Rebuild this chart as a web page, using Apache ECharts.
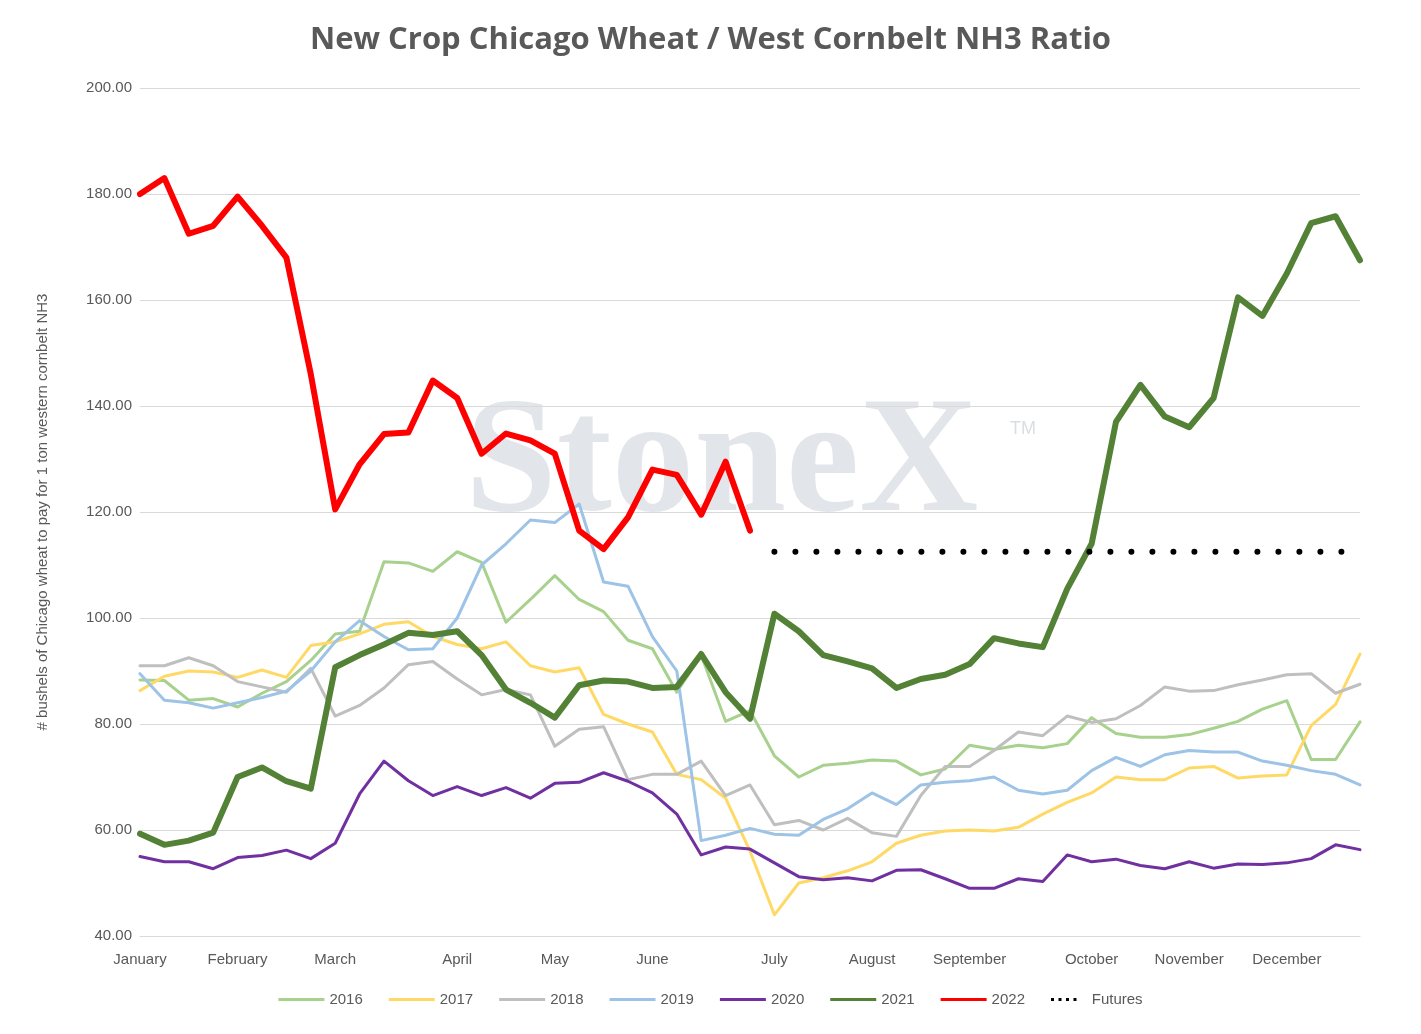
<!DOCTYPE html>
<html>
<head>
<meta charset="utf-8">
<script src="https://cdn.jsdelivr.net/npm/echarts@6/dist/echarts.min.js"></script>
<style>html,body{margin:0;padding:0;background:#fff}#chart{width:1421px;height:1034px}</style>
</head>
<body>
<div id="chart"></div>
<script>
var monthAt = {0:'January',4:'February',8:'March',13:'April',17:'May',21:'June',26:'July',30:'August',34:'September',39:'October',43:'November',47:'December'};
var weeks = [];
for (var i = 0; i < 51; i++) weeks.push(monthAt[i] || ('w' + i));

var s2016 = [88.3,88.2,84.5,84.8,83.2,85.8,88,92,97,97.5,110.6,110.4,108.8,112.5,110.5,99.2,103.5,108,103.5,101.2,95.8,94.2,86,93,80.5,82.5,74,70,72.2,72.6,73.2,73,70.4,71.5,76,75.2,76,75.5,76.3,81.2,78.2,77.5,77.5,78,79.2,80.5,82.8,84.4,73.3,73.3,80.4];
var s2017 = [86.3,89,90,89.8,88.8,90.2,88.8,94.8,95.5,97,98.8,99.3,96.5,95,94.2,95.5,91,89.8,90.6,81.8,80,78.5,70.5,69.5,66,56,44,50,51,52.3,54,57.5,59,59.8,60,59.8,60.5,63,65.2,67,70,69.5,69.5,71.7,72,69.8,70.2,70.4,79.7,83.7,93.2];
var s2018 = [91,91,92.5,91,88,87,86,90.5,81.5,83.5,86.8,91.2,91.8,88.5,85.5,86.5,85.5,75.8,79,79.5,69.5,70.5,70.5,73,66.5,68.5,61,61.8,60,62.2,59.5,58.8,66.5,72,72,75,78.5,77.8,81.5,80.3,81,83.5,87,86.2,86.3,87.4,88.3,89.3,89.5,85.8,87.5];
var s2019 = [89.5,84.5,84,83,84,85,86.2,90,95.5,99.5,96.5,94,94.2,100,110,114,118.5,118,121.5,106.8,106,96.5,90,58,59,60.3,59.2,59,62,64,67,64.8,68.5,69,69.3,70,67.5,66.8,67.5,71.2,73.7,72,74.2,75,74.7,74.7,73,72.2,71.2,70.5,68.5];
var s2020 = [55,54,54,52.7,54.8,55.2,56.2,54.6,57.5,66.8,73,69.3,66.5,68.2,66.5,68,66,68.8,69,70.8,69.2,67,63,55.3,56.8,56.4,53.8,51.2,50.6,51,50.4,52.4,52.5,50.8,49,49,50.8,50.3,55.3,54,54.5,53.3,52.7,54,52.8,53.6,53.5,53.8,54.6,57.2,56.3];
var s2021 = [59.3,57.2,58,59.5,70,71.8,69.2,67.8,90.7,93,95,97.2,96.8,97.5,93,86.5,84,81.2,87.3,88.2,88,86.8,87,93.2,86,81,100.8,97.5,93,91.8,90.5,86.8,88.5,89.3,91.3,96.2,95.2,94.5,105.5,114,137,144,138,136,141.5,160.5,157,165,174.5,175.8,167.5];
var s2022 = [180,183,172.5,174,179.5,174,168,146,120.5,129,134.7,135,144.8,141.5,131,134.8,133.5,131,116.5,113,119,128,127,119.5,129.5,116.5];
var futuresStart = 26, futuresValue = 112.5;
var futures = weeks.map(function (w, i) { return i >= futuresStart ? futuresValue : null; });

function line(name, data, color, width) {
	return {name: name, type: 'line', data: data, symbol: 'none', smooth: false,
		lineStyle: {color: color, width: width, cap: 'round', join: 'round'}, itemStyle: {color: color}};
}

var chart = echarts.init(document.getElementById('chart'));
chart.setOption({
	animation: false,
	title: {text: 'New Crop Chicago Wheat / West Cornbelt NH3 Ratio', left: 'center', top: 20,
		textStyle: {color: '#595959', fontSize: 31, fontWeight: 'bold', fontFamily: 'Open Sans'}},
	graphic: [
		{type: 'text', left: 465, top: 385, silent: true,
			style: {text: 'StoneX', fill: 'rgba(150,160,175,0.28)', font: 'bold 165px Liberation Serif'}},
		{type: 'text', left: 1010, top: 420, silent: true,
			style: {text: 'TM', fill: 'rgba(150,160,175,0.35)', font: '18px Liberation Sans'}}
	],
	legend: {bottom: 22, itemWidth: 46, itemHeight: 3, itemGap: 26, icon: 'rect',
		textStyle: {color: '#595959', fontSize: 15},
		data: ['2016','2017','2018','2019','2020','2021','2022',
			{name: 'Futures', icon: 'path://M0,0h2v2h-2zM5,0h2v2h-2zM10,0h2v2h-2zM15,0h2v2h-2z', itemHeight: 6, itemWidth: 46}]},
	grid: {left: 140, right: 61, top: 88, bottom: 98},
	xAxis: {type: 'category', boundaryGap: false, data: weeks,
		axisLine: {lineStyle: {color: '#d9d9d9'}}, axisTick: {show: false},
		axisLabel: {color: '#595959', fontSize: 15, margin: 16, interval: 0,
			formatter: function (v) { return v.charAt(0) === 'w' ? '' : v; }}},
	yAxis: {type: 'value', min: 40, max: 200, interval: 20,
		name: '# bushels of Chicago wheat to pay for 1 ton western cornbelt NH3',
		nameLocation: 'middle', nameGap: 90, nameTextStyle: {color: '#595959', fontSize: 15},
		axisLabel: {color: '#595959', fontSize: 15, formatter: function (v) { return v.toFixed(2); }},
		splitLine: {lineStyle: {color: '#d9d9d9'}}},
	series: [
		line('2016', s2016, '#a9d18e', 3),
		line('2017', s2017, '#ffd966', 3),
		line('2018', s2018, '#bfbfbf', 3),
		line('2019', s2019, '#9dc3e6', 3),
		line('2020', s2020, '#7030a0', 3),
		line('2021', s2021, '#538135', 6),
		line('2022', s2022, '#ff0000', 6),
		{name: 'Futures', type: 'line', data: futures, symbol: 'none', itemStyle: {color: '#000'},
			lineStyle: {color: '#000', width: 6, type: [0, 21], cap: 'round'}}
	]
});
</script>
</body>
</html>
